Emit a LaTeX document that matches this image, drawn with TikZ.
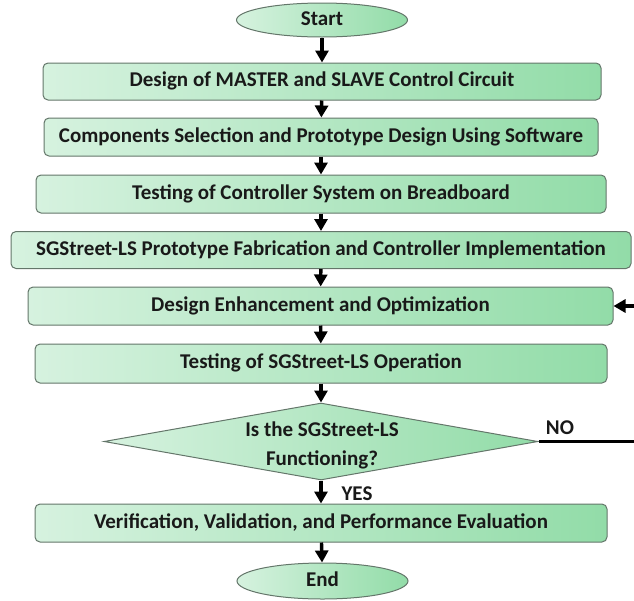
\documentclass[tikz,border=0pt]{standalone}
\usepackage{fontspec}
\setmainfont{Carlito}
\usetikzlibrary{shapes.geometric,arrows.meta}
\definecolor{gleft}{RGB}{214,242,223}
\definecolor{gright}{RGB}{146,220,168}
\definecolor{bord}{RGB}{100,118,106}
\tikzset{
  txt/.style={font=\fontsize{21}{26}\selectfont\bfseries, text=black!90},
  proc/.style={txt, rectangle, rounded corners=5pt, draw=bord, line width=1pt,
    left color=gleft, right color=gright, inner sep=0pt,
    text height=1.23em, text depth=0.15em},
  term/.style={txt, ellipse, draw=bord, line width=1pt,
    left color=gleft, right color=gright, inner sep=0pt,
    text height=1.23em, text depth=0.15em},
  dec/.style={diamond, draw=bord, line width=1pt, left color=gleft, right color=gright,
    inner sep=0pt, aspect=5.6},
  flow/.style={line width=3.4pt, -{Triangle[length=12pt,width=13pt]}},
  plain/.style={line width=3.4pt},
}
\begin{document}
\begin{tikzpicture}[x=1pt,y=-1pt]
\useasboundingbox (0,0) rectangle (634,600);
\node[term, minimum width=171pt, minimum height=34pt] (start) at (322,20) {Start};
\node[proc, minimum width=558pt, minimum height=37pt] (b1) at (322,81.5) {Design of MASTER and SLAVE Control Circuit};
\node[proc, minimum width=554pt, minimum height=38pt] (b2) at (321,137) {Components Selection and Prototype Design Using Software};
\node[proc, minimum width=570pt, minimum height=38pt] (b3) at (321,194) {Testing of Controller System on Breadboard};
\node[proc, minimum width=620pt, minimum height=37pt] (b4) at (321,250) {SGStreet-LS Prototype Fabrication and Controller Implementation};
\node[proc, minimum width=585pt, minimum height=38pt] (b5) at (320.5,306) {Design Enhancement and Optimization};
\node[proc, minimum width=572pt, minimum height=39pt] (b6) at (321,363.5) {Testing of SGStreet-LS Operation};
\node[dec, minimum width=434pt, minimum height=77pt] (d) at (321,441.5) {};
\node[txt, align=center] (dtext) at (322,445) {Is the SGStreet-LS\\[3pt]Functioning?};
\node[proc, minimum width=572pt, minimum height=38pt] (b7) at (321,523) {Verification, Validation, and Performance Evaluation};
\node[term, minimum width=171pt, minimum height=36pt] (end) at (322.5,581) {End};
\node[txt] (no) at (560,428) {NO};
\node[txt] (yes) at (357,494) {YES};
\coordinate (noend) at (634,441.5);
\coordinate (fbstart) at (634,306);
\draw[flow] (start) -- (b1);
\draw[flow] (b1) -- (b2);
\draw[flow] (b2) -- (b3);
\draw[flow] (b3) -- (b4);
\draw[flow] (b4) -- (b5);
\draw[flow] (b5) -- (b6);
\draw[flow] (b6) -- (d);
\draw[flow] (d) -- (b7);
\draw[flow] (b7) -- (end);
\draw[plain] (d.east) -- (noend);
\draw[flow] (fbstart) -- (b5.east);
\end{tikzpicture}
\end{document}
